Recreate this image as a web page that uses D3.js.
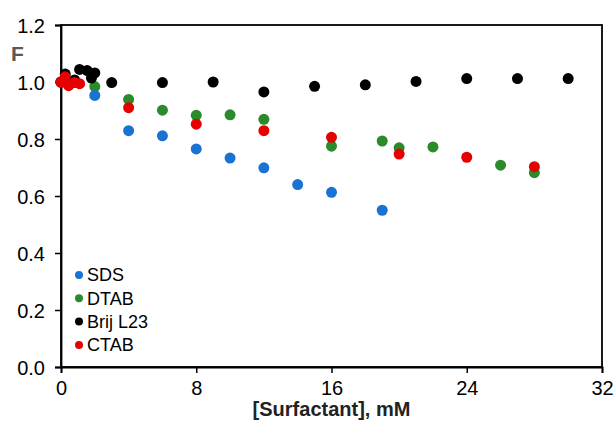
<!DOCTYPE html>
<html>
<head>
<meta charset="utf-8">
<script src="https://cdn.jsdelivr.net/npm/d3@7"></script>
<style>
  html, body { margin: 0; padding: 0; background: #fff; }
  svg { display: block; font-family: "Liberation Sans", Arial, sans-serif; }
</style>
</head>
<body>
<svg id="chart" width="614" height="425"></svg>
<script>
// Relative fluorescence F versus surfactant concentration (mM)
const seriesNames = ["SDS", "DTAB", "Brij L23", "CTAB"];
const seriesColors = ["#1a73d2", "#2b8a2b", "#000000", "#e60000"];

const sdsX  = [0, 2, 4, 6, 8, 10, 12, 14, 16, 19];
const sdsY  = [1.0, 0.953, 0.829, 0.811, 0.765, 0.733, 0.699, 0.640, 0.613, 0.550];

const dtabX = [0, 2, 4, 6, 8, 10, 12, 16, 19, 20, 22, 26, 28];
const dtabY = [1.0, 0.984, 0.939, 0.901, 0.883, 0.885, 0.869, 0.775, 0.793, 0.769, 0.772, 0.708, 0.682];

const brijX = [0, 0.25, 0.8, 1.1, 1.55, 1.8, 2.0, 3, 6, 9, 12, 15, 18, 21, 24, 27, 30];
const brijY = [1.0, 1.028, 1.007, 1.044, 1.040, 1.014, 1.032, 0.998, 0.998, 1.0, 0.965, 0.985, 0.990, 1.002, 1.012, 1.012, 1.012];

const ctabX = [0, 0.25, 0.45, 0.8, 1.1, 4, 8, 12, 16, 20, 24, 28];
const ctabY = [1.0, 1.018, 0.987, 0.998, 0.994, 0.910, 0.852, 0.829, 0.806, 0.747, 0.736, 0.703];

const xTicks = [0, 8, 16, 24, 32];
const yTicks = [0, 0.2, 0.4, 0.6, 0.8, 1.0, 1.2];

const xs = [sdsX, dtabX, brijX, ctabX];
const ys = [sdsY, dtabY, brijY, ctabY];
const series = seriesNames.map((name, i) => ({
  name, color: seriesColors[i],
  points: xs[i].map((x, j) => ({ x, y: ys[i][j] }))
}));

const svg = d3.select("#chart");
const margin = { left: 61, right: 12, top: 25, bottom: 58 };
const W = 614, H = 425;

const x = d3.scaleLinear().domain([0, 32]).range([margin.left, W - margin.right]);
const y = d3.scaleLinear().domain([0, 1.2]).range([H - margin.bottom, margin.top]);

// Frame (top and right edges)
svg.append("rect")
  .attr("x", x(0)).attr("y", y(1.2))
  .attr("width", x(32) - x(0)).attr("height", y(0) - y(1.2))
  .attr("fill", "none").attr("stroke", "#000").attr("stroke-width", 1.8);

// Axes
const xAxis = svg.append("g")
  .attr("transform", `translate(0,${y(0)})`)
  .call(d3.axisBottom(x).tickValues(xTicks).tickSize(6).tickPadding(8).tickFormat(d3.format("d")));
const yAxis = svg.append("g")
  .attr("transform", `translate(${x(0)},0)`)
  .call(d3.axisLeft(y).tickValues(yTicks).tickSize(6).tickPadding(10).tickFormat(d3.format(".1f")));

[xAxis, yAxis].forEach(g => {
  g.select(".domain").attr("stroke", "#000").attr("stroke-width", 1.8);
  g.selectAll(".tick line").attr("stroke", "#000").attr("stroke-width", 1.5);
  g.selectAll(".tick text")
    .attr("fill", "#000")
    .style("font-family", "'Liberation Sans', Arial, sans-serif")
    .style("font-size", "20px");
});
xAxis.selectAll(".tick text").attr("dy", "0.72em");
yAxis.selectAll(".tick text").attr("dy", "0.35em");

// Axis titles
svg.append("text")
  .attr("x", (x(0) + x(32)) / 2)
  .attr("y", 416)
  .attr("text-anchor", "middle")
  .style("font-size", "20px")
  .style("font-weight", "bold")
  .attr("fill", "#222")
  .text("[Surfactant], mM");

svg.append("text")
  .attr("x", 11)
  .attr("y", 61)
  .style("font-size", "21px")
  .style("font-weight", "bold")
  .attr("fill", "#595959")
  .text("F");

// Data markers
const drawOrder = [1, 0, 2, 3];
drawOrder.forEach(i => {
  const s = series[i];
  svg.append("g")
    .selectAll("circle")
    .data(s.points)
    .join("circle")
    .attr("cx", d => x(d.x))
    .attr("cy", d => y(d.y))
    .attr("r", 5.5)
    .attr("fill", s.color);
});

// Legend
const legend = svg.append("g").attr("transform", "translate(79,275)");
series.forEach((s, i) => {
  const row = legend.append("g").attr("transform", `translate(0,${i * 23.3})`);
  row.append("circle").attr("cx", 0).attr("cy", 0).attr("r", 4).attr("fill", s.color);
  row.append("text")
    .attr("x", 8).attr("y", 0).attr("dy", "0.36em")
    .style("font-size", "18px")
    .attr("fill", "#000")
    .text(s.name);
});
</script>
</body>
</html>
